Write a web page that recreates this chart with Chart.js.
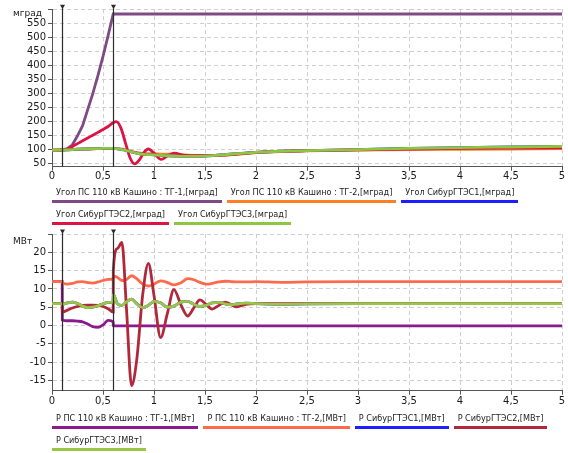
<!DOCTYPE html>
<html>
<head>
<meta charset="utf-8">
<script src="https://cdn.jsdelivr.net/npm/chart.js@4.4.1/dist/chart.umd.min.js"></script>
<style>
html, body { margin: 0; padding: 0; background: #fff; width: 568px; height: 453px; overflow: hidden; }
canvas { position: absolute; left: 0; }
#angle-chart { top: 0; }
#power-chart { top: 226px; }
.legend { position: absolute; left: 52px; width: 516px; display: flex; flex-wrap: wrap;
  font: 9px "DejaVu Sans Condensed", "DejaVu Sans", sans-serif; font-stretch: condensed; color: #222; }
.legend span { display: inline-block; line-height: 12px; padding: 1px 4px 2px; border-bottom: 3px solid;
  margin: 0 5px 4px 0; white-space: nowrap; }
#angle-legend { top: 185px; }
#power-legend { top: 411px; }
</style>
</head>
<body>
<canvas id="angle-chart" width="568" height="186"></canvas>
<div class="legend" id="angle-legend"></div>
<canvas id="power-chart" width="568" height="182"></canvas>
<div class="legend" id="power-legend"></div>
<script>
"use strict";

// --- angles, мград ---
const angleTime = [0, 0.1, 0.15, 0.2, 0.25, 0.3, 0.35, 0.4, 0.45, 0.5, 0.55, 0.6, 0.63, 0.675, 0.72, 0.765,
	0.81, 0.86, 0.9, 0.945, 1.0, 1.07, 1.13, 1.2, 1.3, 1.42, 1.6, 1.8, 2.0, 2.25, 2.5, 3.0, 3.5, 4.0, 4.5, 5.0];
const angleTg1 = [100, 100, 104, 118, 150, 186, 243, 300, 364, 432, 506, 583, 583, 583, 583, 583,
	583, 583, 583, 583, 583, 583, 583, 583, 583, 583, 583, 583, 583, 583, 583, 583, 583, 583, 583, 583];
const angleTg2 = [100, 100, 100, 101, 102, 102, 103, 103, 104, 104, 104, 104, 104, 103, 100, 96,
	92, 89, 87, 86, 86, 85, 85, 84, 82, 80, 80, 84, 90, 94, 96, 99, 101, 102, 103, 104];
const angleGtes2 = [98, 99, 102, 112, 122, 132, 142, 152, 162, 172, 183, 196, 200, 178, 125, 72,
	50, 66, 90, 103, 88, 66, 78, 88, 80, 79, 80, 84, 91, 95, 97, 100, 103, 105, 106, 107];
const angleGtes3 = [98, 99, 100, 101, 102, 103, 103, 104, 104, 105, 105, 105, 104, 102, 98, 94,
	90, 86, 84, 83, 82, 80, 79, 78, 77, 77, 80, 86, 91, 95, 97, 101, 105, 108, 110, 112];
// СибурГТЭС1 is not visible: its trace lies under СибурГТЭС3
const angleGtes1 = angleGtes3;

// --- active power, МВт ---
const powerTime = [0, 0.1, 0.101, 0.15, 0.2, 0.25, 0.3, 0.35, 0.4, 0.45, 0.5, 0.55, 0.6, 0.601, 0.64, 0.685,
	0.73, 0.78, 0.83, 0.89, 0.945, 1.0, 1.065, 1.13, 1.195, 1.265, 1.33, 1.39, 1.45, 1.51, 1.57, 1.635,
	1.7, 1.755, 1.81, 1.9, 2.0, 2.25, 2.5, 3.0, 3.5, 4.0, 4.5, 5.0];
const powerTg1 = [12, 12, 1.5, 1.3, 1.3, 1.2, 1.0, 0.4, -0.3, -0.5, 0.2, 1.4, 1.0, -0.1, -0.1, -0.1,
	-0.1, -0.1, -0.1, -0.1, -0.1, -0.1, -0.1, -0.1, -0.1, -0.1, -0.1, -0.1, -0.1, -0.1, -0.1, -0.1,
	-0.1, -0.1, -0.1, -0.1, -0.1, -0.1, -0.1, -0.1, -0.1, -0.1, -0.1, -0.1];
const powerTg2 = [12, 12, 11.8, 11.3, 11.5, 11.9, 12.0, 11.7, 11.6, 11.9, 12.3, 12.6, 12.8, 13.5, 13.2, 12.3,
	12.6, 13.6, 12.8, 11.3, 10.8, 11.3, 12.2, 11.8, 11.1, 11.7, 12.8, 12.5, 11.8, 11.3, 11.5, 11.9,
	12.1, 12.0, 11.9, 11.9, 12.0, 11.8, 11.9, 12.0, 12.0, 12.0, 12.0, 12.0];
const powerGtes2 = [6.0, 6.0, 3.6, 4.2, 4.8, 5.2, 5.5, 5.6, 5.6, 5.5, 5.2, 4.6, 3.7, 15.0, 21.0, 22.7,
	4.7, -16.4, -9.5, 8.6, 17.0, 8.2, -3.3, 3.2, 9.8, 5.6, 2.6, 4.8, 7.0, 5.8, 4.5, 5.5,
	6.4, 5.7, 5.1, 5.8, 6.0, 6.0, 6.0, 6.0, 6.0, 6.0, 6.0, 6.0];
const powerGtes3 = [6.0, 6.0, 5.8, 6.2, 6.4, 6.0, 5.3, 4.9, 5.0, 5.4, 5.9, 6.3, 6.4, 8.5, 6.0, 5.5,
	6.5, 7.2, 6.0, 4.9, 5.5, 6.6, 6.2, 5.0, 5.3, 6.4, 6.6, 5.8, 5.2, 5.5, 6.2, 6.3,
	5.9, 5.7, 5.9, 6.1, 6.0, 5.8, 5.9, 6.0, 6.0, 6.0, 6.0, 6.0];
const powerGtes1 = powerGtes3;

const markerTimes = [0.1, 0.6];

const angleLabels = ["Угол ПС 110 кВ Кашино : ТГ-1,[мград]", "Угол ПС 110 кВ Кашино : ТГ-2,[мград]",
	"Угол СибурГТЭС1,[мград]", "Угол СибурГТЭС2,[мград]", "Угол СибурГТЭС3,[мград]"];
const powerLabels = ["Р ПС 110 кВ Кашино : ТГ-1,[МВт]", "Р ПС 110 кВ Кашино : ТГ-2,[МВт]",
	"Р СибурГТЭС1,[МВт]", "Р СибурГТЭС2,[МВт]", "Р СибурГТЭС3,[МВт]"];

const angleColors = ["#7e4a84", "#ff7f27", "#1e1eff", "#dc1444", "#8dc63f"];
const powerColors = ["#8a1a8e", "#ff6a4d", "#1e1eff", "#b0283a", "#99c744"];


const markerLines = {
	id: "markerLines",
	afterDatasetsDraw(chart, args, opts) {
		const {ctx, chartArea} = chart;
		const xScale = chart.scales.x;
		ctx.save();
		ctx.strokeStyle = "#2b2b2b";
		ctx.fillStyle = "#2b2b2b";
		ctx.lineWidth = 1.2;
		for (const t of markerTimes) {
			const px = Math.round(xScale.getPixelForValue(t)) + 0.5;
			ctx.beginPath();
			ctx.moveTo(px, chartArea.top - 1);
			ctx.lineTo(px, chartArea.bottom);
			ctx.stroke();
			ctx.beginPath();
			ctx.moveTo(px - 2.5, chartArea.top - 4.5);
			ctx.lineTo(px + 2.5, chartArea.top - 4.5);
			ctx.lineTo(px, chartArea.top);
			ctx.closePath();
			ctx.fill();
		}
		ctx.fillStyle = "#222";
		ctx.font = '9px "DejaVu Sans"';
		ctx.textAlign = "left";
		ctx.textBaseline = "middle";
		ctx.fillText(opts.unit, 13, chartArea.top + opts.unitOffset);
		ctx.restore();
	}
};


function drawPanel(canvasId, legendId, time, seriesValues, labels, colors, axis) {
	const datasets = seriesValues.map((values, i) => ({
		label: labels[i],
		data: time.map((t, k) => ({x: t, y: values[k]})),
		borderColor: colors[i],
		borderWidth: 2.8,
		pointRadius: 0,
		fill: false,
		tension: axis.straight[i] ? 0 : 0.4,
		cubicInterpolationMode: axis.straight[i] ? "default" : "monotone",
		order: seriesValues.length - 1 - i
	}));

	const tickFont = {family: "DejaVu Sans", size: 10};
	new Chart(document.getElementById(canvasId), {
		type: "line",
		data: {datasets},
		options: {
			responsive: false,
			animation: false,
			layout: {padding: {top: axis.padTop, right: 6, left: 0, bottom: 0}},
			plugins: {
				legend: {display: false},
				tooltip: {enabled: false},
				markerLines: {unit: axis.unit, unitOffset: axis.unitOffset}
			},
			scales: {
				x: {
					type: "linear",
					min: 0,
					max: 5,
					ticks: {
						stepSize: 0.5,
						autoSkip: false,
						maxRotation: 0,
						padding: axis.xPad,
						color: "#1a1a1a",
						font: tickFont,
						callback: v => String(v).replace(".", ",")
					},
					grid: {color: "#cfcfcf", tickLength: 4, tickColor: "#555", tickBorderDash: []},
					border: {color: "#555", width: 1, dash: [4, 3]},
					afterFit: s => { s.height = axis.xHeight; }
				},
				y: {
					type: "linear",
					min: axis.min,
					max: axis.max,
					ticks: {
						autoSkip: false,
						padding: 2,
						color: "#1a1a1a",
						font: tickFont,
						callback: v => (v === axis.max ? "" : String(v))
					},
					// ticks on whole multiples of the step only
					afterBuildTicks: s => {
						const ticks = [];
						for (let v = Math.ceil(axis.min / axis.step) * axis.step; v <= axis.max; v += axis.step) {
							ticks.push({value: v});
						}
						s.ticks = ticks;
					},
					grid: {color: "#cfcfcf", tickLength: 4, tickColor: "#555", tickBorderDash: []},
					border: {color: "#555", width: 1, dash: [4, 3]},
					afterFit: s => { s.width = 52; }
				}
			}
		},
		plugins: [markerLines]
	});

	const legend = document.getElementById(legendId);
	labels.forEach((text, i) => {
		const item = document.createElement("span");
		item.textContent = text;
		item.style.borderBottomColor = colors[i];
		legend.appendChild(item);
	});
}


drawPanel("angle-chart", "angle-legend", angleTime,
	[angleTg1, angleTg2, angleGtes1, angleGtes2, angleGtes3], angleLabels, angleColors,
	{min: 40, max: 600, step: 50, padTop: 9.2, xHeight: 19.3, xPad: 0, unit: "мград", unitOffset: 4.5,
		straight: [true, false, false, false, false]});

drawPanel("power-chart", "power-legend", powerTime,
	[powerTg1, powerTg2, powerGtes1, powerGtes2, powerGtes3], powerLabels, powerColors,
	{min: -17.8, max: 25, step: 5, padTop: 6.7, xHeight: 17.3, xPad: 1, unit: "МВт", unitOffset: 7.5,
		straight: [false, false, false, false, false]});
</script>
</body>
</html>
